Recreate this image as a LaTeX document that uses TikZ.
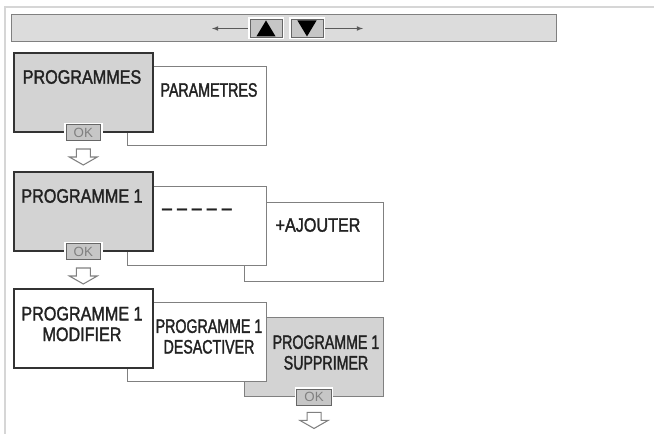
\documentclass[tikz,border=0pt]{standalone}
\usepackage{fontspec}
\setmainfont{Liberation Sans}
\newfontfamily\lblfont[FakeStretch=0.83, FakeBold=1.6]{Liberation Sans}
\newfontfamily\narrowfont[FakeStretch=0.73, FakeBold=1.6]{Liberation Sans}
\usepackage{tikz}
\usetikzlibrary{positioning}
\definecolor{panelgray}{HTML}{D3D3D3}
\definecolor{bargray}{HTML}{DCDCDC}
\definecolor{edgedark}{HTML}{333333}
\definecolor{edgegray}{HTML}{808080}
\definecolor{framegray}{HTML}{D6D6D6}
\definecolor{keygray}{HTML}{C6C6C6}
\definecolor{inkgray}{HTML}{222222}

\begin{document}
\begin{tikzpicture}[
    x=0.75pt, y=-0.75pt,
    card/.style={draw=edgegray, line width=0.8pt, fill=white, anchor=north west,
      inner sep=0pt, minimum width=104.25pt, minimum height=59.25pt},
    frontcard/.style={card, draw=edgedark, line width=1.2pt},
    lbl/.style={font=\lblfont\fontsize{14.6}{15.5}\selectfont, text=inkgray,
      align=center, inner sep=0pt},
    narrowlbl/.style={lbl, font=\narrowfont\fontsize{14.6}{15.5}\selectfont},
    okkey/.style={draw=edgegray!80!black, fill=keygray, line width=0.6pt,
      minimum width=26pt, minimum height=12pt, inner sep=0pt,
      font=\fontsize{10}{10}\selectfont, text=gray,
      preaction={draw=white, line width=3pt}},
    arrowkey/.style={okkey, minimum width=24pt, minimum height=13.5pt},
    hollow/.pic={\draw[edgegray, fill=white, line width=0.8pt]
      (-7,-8) -- (7,-8) -- (7,0) -- (14,0) -- (0,8) -- (-14,0) -- (-7,0) -- cycle;},
    >=latex
  ]
    \useasboundingbox (0,0) rectangle (654,434);

    % --- Frame ---
    \draw[framegray, line width=1.2pt] (5,434) -- (5,7) -- (654,7);

    % --- Key bar with up / down keys ---
    \node[draw=edgegray, line width=1pt, fill=bargray, anchor=north west,
      minimum width=408.75pt, minimum height=20.25pt, inner sep=0pt] (bar) at (11,14) {};
    \node[arrowkey] (up)   at (266,28.5) {};
    \node[arrowkey] (down) at (307,28.5) {};
    \fill ([yshift=6pt]up.center) -- ([xshift=7.2pt,yshift=-6pt]up.center)
      -- ([xshift=-7.2pt,yshift=-6pt]up.center) -- cycle;
    \fill ([yshift=-6pt]down.center) -- ([xshift=7.2pt,yshift=6pt]down.center)
      -- ([xshift=-7.2pt,yshift=6pt]down.center) -- cycle;
    \coordinate (lefttip)  at (212,28.5);
    \coordinate (righttip) at (363,28.5);
    \draw[->, edgegray!70!black, line width=0.6pt, shorten <=1.5pt] (up) -- (lefttip);
    \draw[->, edgegray!70!black, line width=0.6pt, shorten <=1.5pt] (down) -- (righttip);

    % --- Level 1 ---
    \node[card] (param) at (127,66) {};
    \node[frontcard, fill=panelgray] (progs) at (13,52) {};
    \node[lbl] (progslbl) at (82,77) {PROGRAMMES};
    \node[narrowlbl] (paramlbl) at (209,90) {PARAMETRES};
    \node[okkey] (ok1) at (progs.south) {OK};
    \path (ok1.south) ++(0,16) pic {hollow};

    % --- Level 2 ---
    \node[card] (addnew) at (244,202) {};
    \node[card] (blank) at (127,186) {};
    \node[frontcard, fill=panelgray] (prog1) at (13,171) {};
    \node[lbl] (prog1lbl) at (82,196) {PROGRAMME 1};
    \node[font=\bfseries\fontsize{15.5}{15.5}\selectfont, text=inkgray, inner sep=0pt]
      (blanklbl) at (197,212) {–\,–\,–\,–\,–};
    \node[lbl] (addnewlbl) at (318,225) {+AJOUTER};
    \node[okkey] (ok2) at (prog1.south) {OK};
    \path (ok2.south) ++(0,16) pic {hollow};

    % --- Level 3 ---
    \node[card, fill=panelgray] (delete) at (244,317) {};
    \node[card] (disable) at (127,302) {};
    \node[frontcard] (modify) at (13,288) {};
    \node[lbl] (modifylbl) at (82,324) {PROGRAMME 1\\MODIFIER};
    \node[narrowlbl] (disablelbl) at (209,336.5) {PROGRAMME 1\\DESACTIVER};
    \node[narrowlbl] (deletelbl) at (326,352.5) {PROGRAMME 1\\SUPPRIMER};
    \node[okkey] (ok3) at (delete.south) {OK};
    \path (ok3.south) ++(0,15) pic {hollow};

  \end{tikzpicture}
\end{document}
